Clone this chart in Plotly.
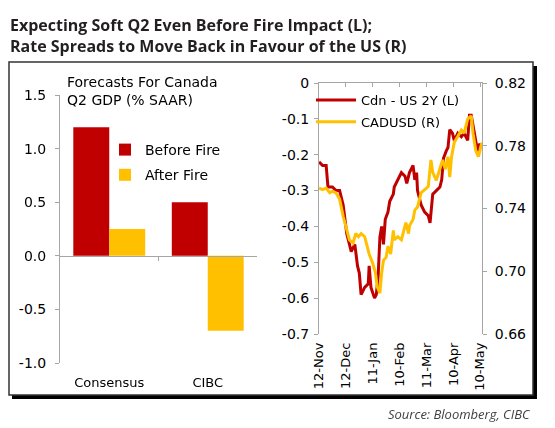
import plotly.graph_objects as go

# ── Data ──────────────────────────────────────────────────────────────────────
categories = ["Consensus", "CIBC"]
before_fire = [1.2, 0.5]
after_fire = [0.25, -0.7]

red_dates = [
    "2015-11-12", "2015-11-16", "2015-11-20", "2015-11-22", "2015-11-24", "2015-11-27",
    "2015-12-01", "2015-12-05", "2015-12-09", "2015-12-11", "2015-12-13", "2015-12-16",
    "2015-12-18", "2015-12-22", "2015-12-25", "2015-12-27", "2015-12-29", "2016-01-02",
    "2016-01-06", "2016-01-07", "2016-01-09", "2016-01-13", "2016-01-15", "2016-01-17",
    "2016-01-19", "2016-01-21", "2016-01-23", "2016-01-25", "2016-01-28", "2016-01-30",
    "2016-02-03", "2016-02-04", "2016-02-08", "2016-02-12", "2016-02-16", "2016-02-18",
    "2016-02-21", "2016-02-25", "2016-02-27", "2016-02-29", "2016-03-01", "2016-03-05",
    "2016-03-09", "2016-03-13", "2016-03-15", "2016-03-17", "2016-03-18", "2016-03-22",
    "2016-03-26", "2016-03-28", "2016-03-30", "2016-04-02", "2016-04-04", "2016-04-06",
    "2016-04-09", "2016-04-11", "2016-04-15", "2016-04-19", "2016-04-22", "2016-04-26",
    "2016-04-28", "2016-04-30", "2016-05-02", "2016-05-05", "2016-05-07", "2016-05-09",
    "2016-05-12",
]
red_vals = [
    -0.22, -0.23, -0.23, -0.29, -0.29, -0.29,
    -0.30, -0.30, -0.34, -0.38, -0.42, -0.45,
    -0.47, -0.45, -0.51, -0.53, -0.59, -0.57,
    -0.56, -0.51, -0.57, -0.60, -0.59, -0.54,
    -0.43, -0.40, -0.45, -0.38, -0.36, -0.33,
    -0.31, -0.29, -0.27, -0.25, -0.26, -0.28,
    -0.25, -0.23, -0.27, -0.25, -0.30, -0.34,
    -0.36, -0.37, -0.39, -0.33, -0.31, -0.30,
    -0.29, -0.27, -0.21, -0.19, -0.18, -0.13,
    -0.14, -0.16, -0.14, -0.15, -0.14, -0.16,
    -0.09, -0.09, -0.12, -0.16, -0.19, -0.17,
    -0.18,
]

yel_dates = [
    "2015-11-12", "2015-11-16", "2015-11-20", "2015-11-24", "2015-11-27", "2015-12-01",
    "2015-12-03", "2015-12-05", "2015-12-09", "2015-12-11", "2015-12-13", "2015-12-16",
    "2015-12-20", "2015-12-23", "2015-12-26", "2015-12-29", "2016-01-02", "2016-01-04",
    "2016-01-07", "2016-01-11", "2016-01-14", "2016-01-16", "2016-01-19", "2016-01-21",
    "2016-01-23", "2016-01-26", "2016-01-28", "2016-01-31", "2016-02-03", "2016-02-04",
    "2016-02-08", "2016-02-12", "2016-02-14", "2016-02-17", "2016-02-20", "2016-02-21",
    "2016-02-25", "2016-02-27", "2016-03-01", "2016-03-05", "2016-03-09", "2016-03-13",
    "2016-03-16", "2016-03-18", "2016-03-22", "2016-03-26", "2016-03-29", "2016-04-01",
    "2016-04-04", "2016-04-06", "2016-04-08", "2016-04-11", "2016-04-15", "2016-04-19",
    "2016-04-22", "2016-04-26", "2016-04-30", "2016-05-02", "2016-05-05", "2016-05-08",
    "2016-05-11", "2016-05-12",
]
yel_vals = [
    0.753, 0.752, 0.753, 0.750, 0.751, 0.750,
    0.748, 0.746, 0.735, 0.731, 0.726, 0.720,
    0.718, 0.724, 0.722, 0.724, 0.722, 0.718,
    0.711, 0.705, 0.699, 0.690, 0.686, 0.699,
    0.707, 0.709, 0.716, 0.711, 0.726, 0.720,
    0.722, 0.720, 0.724, 0.731, 0.724, 0.729,
    0.733, 0.739, 0.741, 0.750, 0.752, 0.754,
    0.771, 0.763, 0.758, 0.765, 0.771, 0.765,
    0.773, 0.760, 0.773, 0.782, 0.786, 0.790,
    0.788, 0.797, 0.799, 0.788, 0.777, 0.773,
    0.780, 0.782,
]

date_ticks = ["2015-11-12", "2015-12-12", "2016-01-11", "2016-02-10",
              "2016-03-11", "2016-04-10", "2016-05-10"]
date_labels = ["12-Nov", "12-Dec", "11-Jan", "10-Feb", "11-Mar", "10-Apr", "10-May"]

gdp_ticks = [-1.0, -0.5, 0.0, 0.5, 1.0, 1.5]
gdp_labels = ["-1.0", "-0.5", "0.0", "0.5", "1.0", "1.5"]
spread_ticks = [-0.7, -0.6, -0.5, -0.4, -0.3, -0.2, -0.1, 0.0]
spread_labels = ["-0.7", "-0.6", "-0.5", "-0.4", "-0.3", "-0.2", "-0.1", "0"]
fx_ticks = [0.66, 0.70, 0.74, 0.78, 0.82]
fx_labels = ["0.66", "0.70", "0.74", "0.78", "0.82"]

# ── Style ─────────────────────────────────────────────────────────────────────
# the page body adds an 8px margin, so the figure is drawn 8px smaller and
# every position below is given in window pixels
OFF = 8
W, H = 555 - OFF, 428 - OFF
RED = "#C00000"
YELLOW = "#FFC000"
AXIS = "#A6A6A6"
FONT = "DejaVu Sans"

def px_x(p):
    return (p - OFF) / W

def px_y(p):
    return 1 - (p - OFF) / H

left_dom_x = [px_x(60), px_x(257)]
left_dom_y = [px_y(363), px_y(95)]
right_dom_x = [px_x(319), px_x(482)]
right_dom_y = [px_y(334), px_y(83)]
left_range = [-1.0, 1.5]
zero_pos = left_dom_y[0] + (0 - left_range[0]) / (left_range[1] - left_range[0]) * (left_dom_y[1] - left_dom_y[0])

fig = go.Figure()

# ── Left: bars ────────────────────────────────────────────────────────────────
fig.add_trace(go.Bar(x=categories, y=before_fire, name="Before Fire",
                     marker_color=RED, marker_line_width=0, legend="legend",
                     legendgroup="b1"))
fig.add_trace(go.Bar(x=categories, y=after_fire, name="After Fire",
                     marker_color=YELLOW, marker_line_width=0, legend="legend",
                     legendgroup="b2"))
# carrier for the zero-line axis with boundary ticks
fig.add_trace(go.Scatter(x=categories, y=before_fire, xaxis="x4", yaxis="y",
                         mode="markers", opacity=0, showlegend=False, hoverinfo="skip"))

# ── Right: lines ──────────────────────────────────────────────────────────────
fig.add_trace(go.Scatter(x=red_dates, y=red_vals, name="Cdn - US 2Y (L)", mode="lines",
                         line=dict(color=RED, width=3), xaxis="x2", yaxis="y2",
                         legend="legend2", legendgroup="l1"))
fig.add_trace(go.Scatter(x=yel_dates, y=yel_vals, name="CADUSD (R)", mode="lines",
                         line=dict(color=YELLOW, width=3), xaxis="x2", yaxis="y3",
                         legend="legend2", legendgroup="l2"))
# carrier for top axis line with ticks
fig.add_trace(go.Scatter(x=red_dates, y=red_vals, xaxis="x3", yaxis="y2",
                         mode="lines", opacity=0, showlegend=False, hoverinfo="skip"))

tick_font = dict(family=FONT, size=14, color="#000000")

fig.update_layout(
    width=W, height=H,
    margin=dict(l=0, r=0, t=0, b=0, autoexpand=False),
    paper_bgcolor="white",
    plot_bgcolor="rgba(0,0,0,0)",
    font=dict(family=FONT, size=13, color="#000000"),
    barmode="group", bargap=0.27, bargroupgap=0,
    showlegend=True,
    xaxis=dict(domain=left_dom_x, anchor="y", showline=False, ticks="",
               tickfont=dict(family=FONT, size=13, color="#000000"), ticklabelstandoff=10),
    xaxis4=dict(domain=left_dom_x, anchor="free", position=zero_pos, overlaying="x",
                showline=True, linecolor=AXIS, linewidth=1, ticks="outside",
                tickson="boundaries", ticklen=4, tickcolor=AXIS, showticklabels=False,
                showgrid=False, zeroline=False),
    yaxis=dict(domain=left_dom_y, anchor="x", range=left_range, tickvals=gdp_ticks,
               ticktext=gdp_labels, showline=True, linecolor=AXIS, linewidth=1,
               ticks="outside", ticklen=4, tickcolor=AXIS, showgrid=False,
               zeroline=False, tickfont=tick_font, ticklabelstandoff=6),
    xaxis2=dict(domain=right_dom_x, anchor="y2", type="date",
                range=["2015-11-12", "2016-05-12"], tickvals=date_ticks,
                ticktext=date_labels, tickangle=-90, showline=False, ticks="",
                showgrid=False, zeroline=False, ticklabelstandoff=5,
                tickfont=dict(family=FONT, size=13, color="#000000")),
    xaxis3=dict(domain=right_dom_x, anchor="y2", overlaying="x2", side="top", type="date",
                range=["2015-11-12", "2016-05-12"], tickvals=date_ticks,
                showticklabels=False, showline=True, linecolor=AXIS, linewidth=1,
                ticks="inside", ticklen=4, tickcolor=AXIS, showgrid=False, zeroline=False),
    yaxis2=dict(domain=right_dom_y, anchor="x2", range=[-0.7, 0], tickvals=spread_ticks,
                ticktext=spread_labels, showline=True, linecolor=AXIS, linewidth=1,
                ticks="outside", ticklen=4, tickcolor=AXIS, showgrid=False,
                zeroline=False, tickfont=tick_font, ticklabelstandoff=2),
    yaxis3=dict(domain=right_dom_y, anchor="x2", overlaying="y2", side="right",
                range=[0.66, 0.82], tickvals=fx_ticks, ticktext=fx_labels,
                showline=True, linecolor=AXIS, linewidth=1, ticks="outside", ticklen=4,
                tickcolor=AXIS, showgrid=False, zeroline=False, tickfont=tick_font,
                ticklabelstandoff=5),
    legend=dict(x=px_x(105), y=px_y(134), xanchor="left", yanchor="top",
                bgcolor="rgba(0,0,0,0)", font=dict(family=FONT, size=14, color="#000000"),
                itemwidth=30, traceorder="grouped", tracegroupgap=4),
    legend2=dict(x=px_x(311), y=px_y(85), xanchor="left", yanchor="top",
                 bgcolor="rgba(0,0,0,0)", font=dict(family=FONT, size=13, color="#000000"),
                 itemwidth=40, traceorder="grouped", tracegroupgap=2),
    shapes=[
        # drop shadow, right and bottom
        dict(type="rect", xref="paper", yref="paper", x0=px_x(533), x1=px_x(537),
             y0=px_y(399), y1=px_y(66), fillcolor="#000000", line_width=0, layer="below"),
        dict(type="rect", xref="paper", yref="paper", x0=px_x(12), x1=px_x(537),
             y0=px_y(399), y1=px_y(395), fillcolor="#000000", line_width=0, layer="below"),
        # frame
        dict(type="rect", xref="paper", yref="paper", x0=px_x(9), x1=px_x(533),
             y0=px_y(395), y1=px_y(62), line=dict(color="#333333", width=1.5),
             fillcolor="rgba(0,0,0,0)", layer="below"),
    ],
    annotations=[
        dict(text="<b>Expecting Soft Q2 Even Before Fire Impact (L);<br>"
                  "Rate Spreads to Move Back in Favour of the US (R)</b>",
             xref="paper", yref="paper", x=px_x(8), y=px_y(12), xanchor="left",
             yanchor="top", align="left", showarrow=False,
             font=dict(family="Open Sans", size=16, color="#231F20")),
        dict(text="Forecasts For Canada<br>Q2 GDP (% SAAR)",
             xref="paper", yref="paper", x=px_x(65), y=px_y(72), xanchor="left",
             yanchor="top", align="left", showarrow=False,
             font=dict(family=FONT, size=14, color="#000000")),
        dict(text="<i>Source: Bloomberg, CIBC</i>",
             xref="paper", yref="paper", x=px_x(533), y=px_y(403), xanchor="right",
             yanchor="top", align="right", showarrow=False,
             font=dict(family="Open Sans", size=13, color="#404040")),
    ],
)

fig.write_html("out.html")
